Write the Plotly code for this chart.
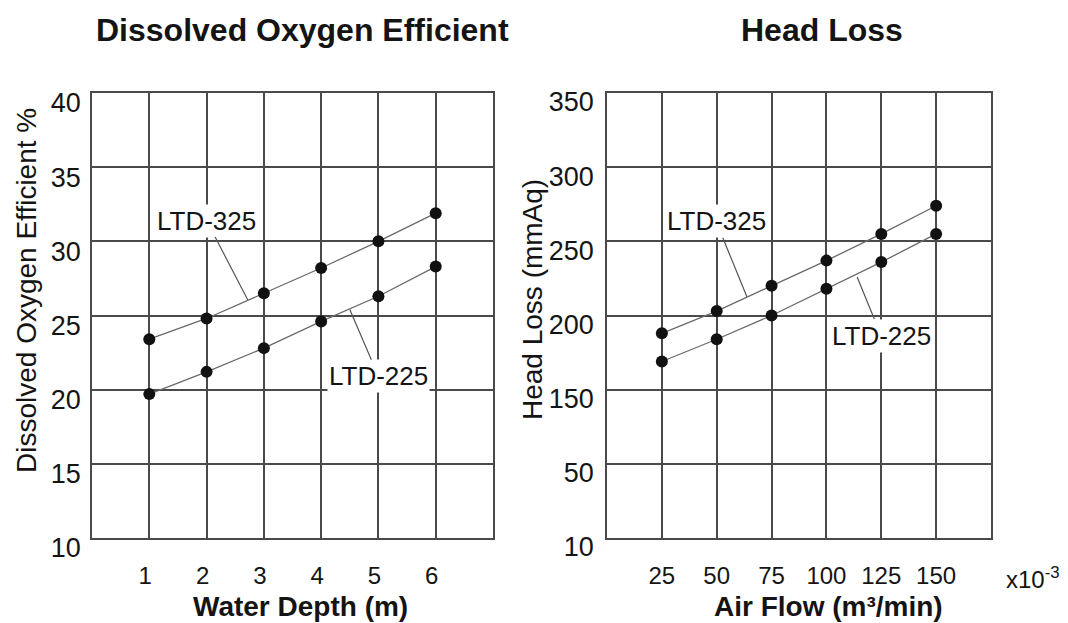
import plotly.graph_objects as go

# ---- data ----
depth = [1, 2, 3, 4, 5, 6]
do_ltd325 = [23.4, 24.8, 26.5, 28.2, 30.0, 31.9]
do_ltd225 = [19.7, 21.2, 22.8, 24.6, 26.3, 28.3]

air_flow = [25, 50, 75, 100, 125, 150]
hl_ltd325 = [188, 203, 220, 237, 255, 274]
hl_ltd225 = [169, 184, 200, 218, 236, 255]

do_ticks = [10, 15, 20, 25, 30, 35, 40]
hl_tickvals = [50, 100, 150, 200, 250, 300, 350]
hl_ticktext = ["10", "50", "150", "200", "250", "300", "350"]

FONT = "Liberation Sans, Arial, sans-serif"
INK = "#141414"
GRID = "#4a4a4a"

# page body adds an 8px offset; the figure is sized to fill the rest of the window
W, H, OFF = 1060, 615, 8


def px(xp):
    return (xp - OFF) / W


def py(yp):
    return 1 - (yp - OFF) / H


fig = go.Figure()

line_style = dict(color="#6a6a6a", width=1.3)
marker_style = dict(color="#111111", size=12)

fig.add_trace(go.Scatter(x=depth, y=do_ltd325, mode="lines+markers", name="LTD-325",
                         line=line_style, marker=marker_style, xaxis="x", yaxis="y"))
fig.add_trace(go.Scatter(x=depth, y=do_ltd225, mode="lines+markers", name="LTD-225",
                         line=line_style, marker=marker_style, xaxis="x", yaxis="y"))
fig.add_trace(go.Scatter(x=air_flow, y=hl_ltd325, mode="lines+markers", name="LTD-325",
                         line=line_style, marker=marker_style, xaxis="x2", yaxis="y2"))
fig.add_trace(go.Scatter(x=air_flow, y=hl_ltd225, mode="lines+markers", name="LTD-225",
                         line=line_style, marker=marker_style, xaxis="x2", yaxis="y2"))

axis_common = dict(showgrid=True, gridcolor=GRID, gridwidth=1.6, automargin=False,
                   showline=True, linecolor=GRID, linewidth=1.6, mirror=True,
                   zeroline=False, ticks="")
xtick_font = dict(family=FONT, size=24, color=INK)
ytick_font = dict(family=FONT, size=27, color=INK)

ydom = [py(538), py(93)]
fig.update_layout(
    xaxis=dict(domain=[px(92), px(493)], range=[0, 7], tickvals=depth, tickfont=xtick_font,
               ticklabelstandoff=15, ticklabelshift=-4, **axis_common),
    yaxis=dict(domain=ydom, range=[10, 40], tickvals=do_ticks, tickfont=ytick_font,
               ticklabelstandoff=4, ticklabelshift=10, **axis_common),
    xaxis2=dict(domain=[px(607), px(991)], range=[0, 175], tickvals=air_flow, anchor="y2",
                tickfont=xtick_font, ticklabelstandoff=15, **axis_common),
    yaxis2=dict(domain=ydom, range=[50, 350], tickvals=hl_tickvals, ticktext=hl_ticktext,
                anchor="x2", tickfont=ytick_font, ticklabelstandoff=6, ticklabelshift=9,
                **axis_common),
    width=W, height=H,
    margin=dict(l=0, r=0, t=0, b=0, autoexpand=False),
    paper_bgcolor="white", plot_bgcolor="white",
    showlegend=False,
    font=dict(family=FONT, color=INK),
)

ann = []
base = dict(xref="paper", yref="paper", showarrow=False, xanchor="center", yanchor="middle")
# titles
ann.append(dict(text="<b>Dissolved Oxygen Efficient</b>", x=px(302), y=py(30),
                font=dict(size=32, family=FONT, color=INK), **base))
ann.append(dict(text="<b>Head Loss</b>", x=px(822), y=py(30),
                font=dict(size=32, family=FONT, color=INK), **base))
# axis titles
ann.append(dict(text="<b>Water Depth (m)</b>", x=px(300), y=py(606),
                font=dict(size=28, family=FONT, color=INK), **base))
ann.append(dict(text="<b>Air Flow (m³/min)</b>", x=px(828), y=py(606),
                font=dict(size=28, family=FONT, color=INK), **base))
ann.append(dict(text="Dissolved Oxygen Efficient %", x=px(26), y=py(291), textangle=-90,
                font=dict(size=28, family=FONT, color=INK), **base))
ann.append(dict(text="Head Loss (mmAq)", x=px(532), y=py(300), textangle=-90,
                font=dict(size=28, family=FONT, color=INK), **base))
ann.append(dict(text="x10<sup>-3</sup>", x=px(1033), y=py(578),
                font=dict(size=24, family=FONT, color=INK), **base))

# series labels with leader lines
lab_font = dict(size=26, family=FONT, color=INK)
leader = dict(showarrow=True, arrowhead=0, arrowwidth=1.2, arrowcolor="#555555",
              bgcolor="white", borderpad=1, font=lab_font)
ann.append(dict(text="LTD-325", x=2.72, y=26.05, ax=2.0, ay=31.4,
                xref="x", yref="y", axref="x", ayref="y", **leader))
ann.append(dict(text="LTD-225", x=4.5, y=25.4, ax=5.0, ay=20.9,
                xref="x", yref="y", axref="x", ayref="y", **leader))
ann.append(dict(text="LTD-325", x=63.8, y=212.5, ax=49.7, ay=263.5,
                xref="x2", yref="y2", axref="x2", ayref="y2", **leader))
ann.append(dict(text="LTD-225", x=114, y=226, ax=124.9, ay=186.5,
                xref="x2", yref="y2", axref="x2", ayref="y2", **leader))

fig.update_layout(annotations=ann)
fig.write_html("out.html")
